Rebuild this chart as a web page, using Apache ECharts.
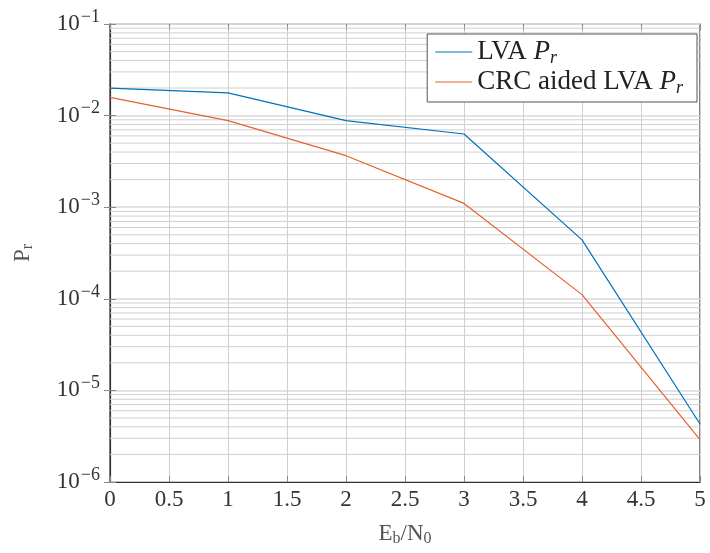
<!DOCTYPE html>
<html><head><meta charset="utf-8">
<script src="https://cdn.jsdelivr.net/npm/echarts@6/dist/echarts.min.js"></script>
<style>html,body{margin:0;padding:0;background:#fff}#c{width:710px;height:553px}</style>
</head><body><div id="c"></div>
<script>
var snr = [0, 1, 2, 3, 4, 5];
var lvaPr = [0.0200, 0.0177, 0.0088, 0.0063, 4.4e-4, 4.3e-6];
var crcPr = [0.0158, 0.0088, 0.00365, 0.0011, 1.11e-4, 2.9e-6];
var xTicks = [0, 0.5, 1, 1.5, 2, 2.5, 3, 3.5, 4, 4.5, 5];
var decades = [-6, -5, -4, -3, -2, -1];
var minorMult = [2, 3, 4, 5, 6, 7, 8, 9];

var FONT = '"Liberation Serif", "DejaVu Serif", serif';
var minorData = [];
decades.slice(0, 5).forEach(function (d) {
  minorMult.forEach(function (m) {
    var v = m * Math.pow(10, d);
    minorData.push([0, v], [5, v], [5, '-']);
  });
});

var chart = echarts.init(document.getElementById('c'), null, {renderer: 'canvas'});
chart.setOption({
  animation: false,
  backgroundColor: '#fff',
  grid: {left: 110, right: 10, top: 24, bottom: 71, show: true, containLabel: false,
         outerBoundsMode: 'none',
         borderColor: '#333', borderWidth: 1.2, backgroundColor: 'transparent'},
  legend: {
    right: 13, top: 34, orient: 'vertical',
    backgroundColor: '#fff', borderColor: '#555', borderWidth: 1,
    padding: [3, 14, 5, 8], itemGap: 0,
    itemWidth: 37, itemHeight: 1.2,
    icon: 'rect',
    textStyle: {fontFamily: FONT, fontSize: 27, color: '#222', lineHeight: 30,
      rich: {t: {fontFamily: FONT, fontSize: 27, color: '#222', lineHeight: 30},
             i: {fontFamily: FONT, fontStyle: 'italic', fontSize: 27, color: '#222', lineHeight: 30},
             s: {fontFamily: FONT, fontStyle: 'italic', fontSize: 18, color: '#222', padding: [12, 0, 0, 0]}}},
    formatter: function (n) {
      return '{t|' + n.replace(' P_r', '') + ' }{i|P}{s|r}';
    },
    data: [{name: 'LVA P_r', itemStyle: {color: '#0072bd'}},
           {name: 'CRC aided LVA P_r', itemStyle: {color: '#e8602c'}}]
  },
  xAxis: [{
    type: 'value', min: 0, max: 5, interval: 0.5,
    name: '{a|E}{b|b}{a|/N}{b|0}', nameLocation: 'middle', nameGap: 38,
    nameTextStyle: {rich: {
      a: {fontFamily: FONT, fontSize: 23, color: '#555'},
      b: {fontFamily: FONT, fontSize: 16, color: '#555', padding: [11, 0, 0, 0]}
    }},
    axisLine: {show: true, onZero: false, lineStyle: {color: '#333', width: 1.2}},
    axisTick: {show: true, inside: true, length: 6, lineStyle: {color: '#888'}},
    axisLabel: {fontFamily: FONT, fontSize: 23, color: '#333', margin: 6,
      formatter: function (v) { return String(v); }},
    splitLine: {show: true, lineStyle: {color: '#d0d0d0', width: 1}}
  }, {
    type: 'value', min: 0, max: 5, interval: 0.5, position: 'top',
    axisLine: {show: false}, axisLabel: {show: false}, splitLine: {show: false},
    axisTick: {show: true, inside: true, length: 6, lineStyle: {color: '#888'}}
  }],
  yAxis: [{
    type: 'log', logBase: 10, min: 1e-6, max: 1e-1,
    name: '{a|P}{b|r}', nameLocation: 'middle', nameGap: 74, nameRotate: 90,
    nameTextStyle: {rich: {
      a: {fontFamily: FONT, fontSize: 23, color: '#555'},
      b: {fontFamily: FONT, fontSize: 16, color: '#555', padding: [11, 0, 0, 0]}
    }},
    axisLine: {show: true, lineStyle: {color: '#333', width: 1.2}},
    axisTick: {show: true, inside: true, length: 6, lineStyle: {color: '#888'}},
    axisLabel: {fontFamily: FONT, color: '#333', margin: 10,
      formatter: function (v) {
        var e = Math.round(Math.log10(v));
        return '{b|10}{s|\u2212' + (-e) + '}';
      },
      rich: {b: {fontFamily: FONT, fontSize: 23, color: '#333'},
             s: {fontFamily: FONT, fontSize: 18, color: '#333', padding: [0, 0, 14, 1]}}
    },
    splitLine: {show: true, lineStyle: {color: '#d8d8d8', width: 1.5}}
  }, {
    type: 'log', logBase: 10, min: 1e-6, max: 1e-1, position: 'right',
    axisLine: {show: false}, axisLabel: {show: false}, splitLine: {show: false},
    axisTick: {show: true, inside: true, length: 6, lineStyle: {color: '#888'}}
  }],
  series: [
    {
      name: 'grid-minor', type: 'line', data: minorData, silent: true,
      showSymbol: false, symbol: 'none', connectNulls: false,
      lineStyle: {color: '#d0d0d0', width: 1}, z: 1
    },
    {
      name: 'LVA P_r', type: 'line', showSymbol: false, symbol: 'none',
      data: snr.map(function (x, i) { return [x, lvaPr[i]]; }),
      lineStyle: {color: '#0072bd', width: 1.2}, itemStyle: {color: '#0072bd'}, z: 5
    },
    {
      name: 'CRC aided LVA P_r', type: 'line', showSymbol: false, symbol: 'none',
      data: snr.map(function (x, i) { return [x, crcPr[i]]; }),
      lineStyle: {color: '#e8602c', width: 1.2}, itemStyle: {color: '#e8602c'}, z: 5
    }
  ]
});
</script></body></html>
